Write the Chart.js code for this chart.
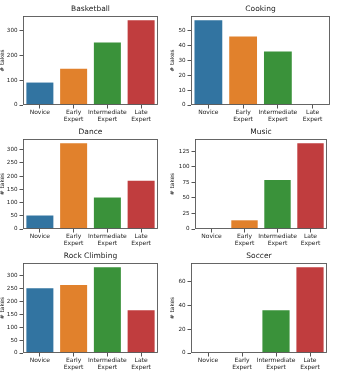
<!DOCTYPE html>
<html>
<head>
<meta charset="utf-8">
<script src="https://cdn.jsdelivr.net/npm/chart.js@4"></script>
<style>
  body { margin: 0; background: #fff; }
  canvas { position: absolute; }
</style>
</head>
<body>
<script>
// data
const categories = ['Novice', ['Early', 'Expert'], ['Intermediate', 'Expert'], ['Late', 'Expert']];
const titles = ['Basketball', 'Cooking', 'Dance', 'Music', 'Rock Climbing', 'Soccer'];
const basketball = [90, 145, 251, 340];
const cooking = [57, 46, 36, 0];
const dance = [51, 324, 119, 182];
const music = [0, 14, 79, 138];
const rockClimbing = [251, 263, 332, 166];
const soccer = [0, 0, 36, 72];
const tickSteps = [100, 10, 50, 25, 50, 20];
const allValues = [basketball, cooking, dance, music, rockClimbing, soccer];

const colors = ['#3274a1', '#e1812c', '#3a923a', '#c03d3e'];
const FONT = 'DejaVu Sans';

// canvas boxes and where the plot area sits in them
const panels = [
  { left: 0,   top: 0,   w: 168, h: 124, yW: 23, padR: 10, padT: 16 },
  { left: 170, top: 0,   w: 173, h: 124, yW: 21, padR: 13, padT: 16 },
  { left: 0,   top: 124, w: 168, h: 124, yW: 23, padR: 10, padT: 15 },
  { left: 170, top: 124, w: 173, h: 124, yW: 25, padR: 16, padT: 15 },
  { left: 0,   top: 248, w: 168, h: 124, yW: 23, padR: 10, padT: 15 },
  { left: 170, top: 248, w: 173, h: 124, yW: 21, padR: 16, padT: 15 }
];
const xAxisH = 19;

const framePlugin = {
  id: 'frame',
  afterDraw(chart, args, opts) {
    const a = chart.chartArea, ctx = chart.ctx;
    ctx.save();
    ctx.strokeStyle = '#555';
    ctx.lineWidth = 0.9;
    ctx.strokeRect(Math.round(a.left) + 0.5, Math.round(a.top) + 0.5,
      Math.round(a.right - a.left) - 1, Math.round(a.bottom - a.top) - 1);
    ctx.fillStyle = '#1a1a1a';
    ctx.font = '7.5px "' + FONT + '"';
    ctx.textAlign = 'center';
    ctx.textBaseline = 'middle';
    ctx.fillText(opts.text, (a.left + a.right) / 2, a.top - 6.5);
    ctx.restore();
  }
};

panels.forEach(function (p, i) {
  var canvas = document.createElement('canvas');
  canvas.width = p.w;
  canvas.height = p.h;
  canvas.style.left = p.left + 'px';
  canvas.style.top = p.top + 'px';
  canvas.style.width = p.w + 'px';
  canvas.style.height = p.h + 'px';
  document.body.appendChild(canvas);

  var values = allValues[i];
  var step = tickSteps[i];
  var yMax = Math.max.apply(null, values) * 1.05;

  new Chart(canvas.getContext('2d'), {
    type: 'bar',
    data: {
      labels: categories,
      datasets: [{
        data: values,
        backgroundColor: colors,
        borderWidth: 0,
        categoryPercentage: 1.0,
        barPercentage: 0.8
      }]
    },
    options: {
      responsive: false,
      animation: false,
      devicePixelRatio: 1,
      layout: {
        autoPadding: false,
        padding: { top: p.padT, right: p.padR, left: 0, bottom: 0 }
      },
      plugins: {
        legend: { display: false },
        tooltip: { enabled: false },
        frame: { text: titles[i] }
      },
      scales: {
        x: {
          offset: true,
          grid: { display: true, offset: false, drawOnChartArea: false, drawTicks: true, tickLength: 3.5, color: '#555' },
          border: { display: false },
          ticks: {
            color: '#1a1a1a', padding: 1, maxRotation: 0, autoSkip: false,
            font: { family: FONT, size: 6, lineHeight: 1.1 }
          },
          afterFit: function (scale) { scale.height = xAxisH; }
        },
        y: {
          min: 0,
          max: yMax,
          grid: { display: true, drawOnChartArea: false, drawTicks: true, tickLength: 3.5, color: '#555' },
          border: { display: false },
          ticks: {
            color: '#1a1a1a', padding: 2, autoSkip: false,
            font: { family: FONT, size: 5.6 }
          },
          title: {
            display: true, text: '# takes', color: '#1a1a1a', padding: 0,
            font: { family: FONT, size: 5.8, lineHeight: 1 }
          },
          afterBuildTicks: function (scale) {
            var t = [];
            for (var v = 0; v <= yMax; v += step) t.push({ value: v });
            scale.ticks = t;
          },
          afterFit: function (scale) { scale.width = p.yW; }
        }
      }
    },
    plugins: [framePlugin]
  });
});
</script>
</body>
</html>
